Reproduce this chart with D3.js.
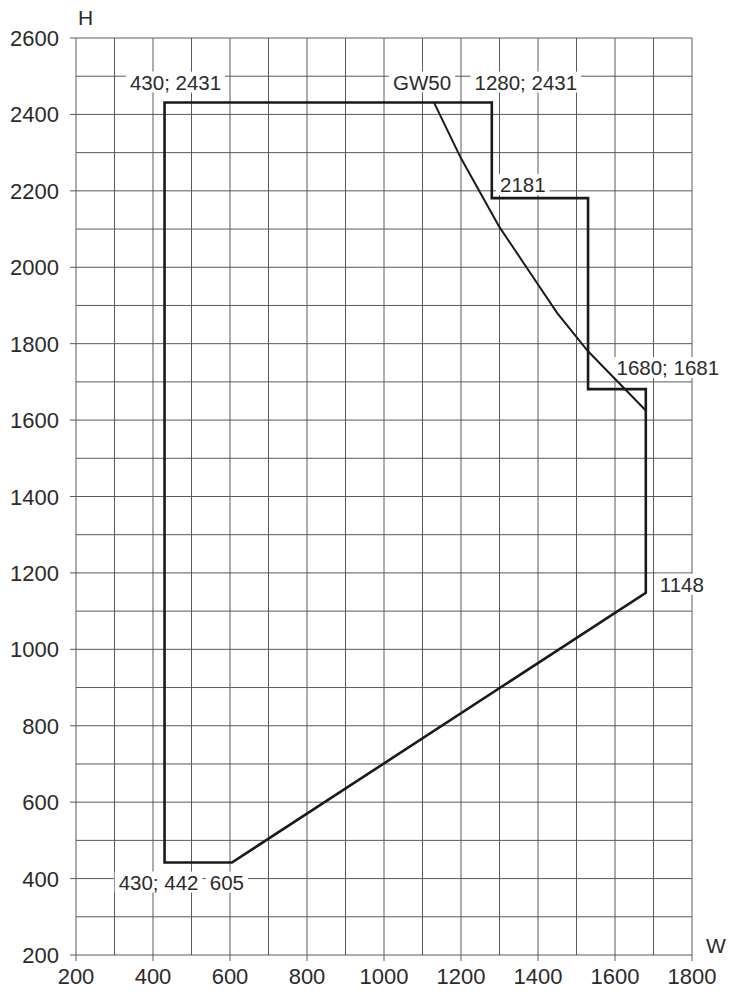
<!DOCTYPE html>
<html>
<head>
<meta charset="utf-8">
<script src="https://cdn.jsdelivr.net/npm/d3@7"></script>
<style>
  body { margin: 0; background: #fff; }
  text { font-family: "Liberation Sans", Arial, sans-serif; fill: #2b2b2b; }
</style>
</head>
<body>
<svg id="chart" width="739" height="1000"></svg>
<script>
const xTicks = [200, 400, 600, 800, 1000, 1200, 1400, 1600, 1800];
const yTicks = [200, 400, 600, 800, 1000, 1200, 1400, 1600, 1800, 2000, 2200, 2400, 2600];

// outline of the allowed area (W; H)
const outline = [
  [430, 2431], [1280, 2431], [1280, 2181], [1530, 2181], [1530, 1681],
  [1680, 1681], [1680, 1148], [605, 442], [430, 442]
];

// GW50 curve
const gw50 = [
  [1130, 2431], [1200, 2285], [1300, 2105], [1390, 1970],
  [1450, 1880], [1530, 1780], [1680, 1625]
];

// annotations: text, anchor point (W; H), pixel offset
const labels = [
  { text: "430; 2431", w: 430, h: 2431, dx: 11, dy: -20 },
  { text: "GW50", w: 1130, h: 2431, dx: -12, dy: -20 },
  { text: "1280; 2431", w: 1280, h: 2431, dx: 34, dy: -20 },
  { text: "2181", w: 1280, h: 2181, dx: 31, dy: -13 },
  { text: "1680; 1681", w: 1680, h: 1681, dx: 22, dy: -21 },
  { text: "1148", w: 1680, h: 1148, dx: 36, dy: -8 },
  { text: "430; 442", w: 430, h: 442, dx: -6, dy: 20 },
  { text: "605", w: 605, h: 442, dx: -5, dy: 20 }
];

const svg = d3.select("#chart");
const x = d3.scaleLinear().domain([200, 1800]).range([76, 692]);
const y = d3.scaleLinear().domain([200, 2600]).range([955, 38]);

const gridColor = "#5a5a5a";

// grid every 100
const g = svg.append("g");
d3.range(200, 1801, 100).forEach((v) => {
  g.append("line").attr("x1", x(v)).attr("x2", x(v))
    .attr("y1", y(2600)).attr("y2", y(200) + (v % 200 === 0 ? 6 : 0))
    .attr("stroke", gridColor).attr("stroke-width", 1);
});
d3.range(200, 2601, 100).forEach((v) => {
  g.append("line").attr("x1", x(200) - (v % 200 === 0 ? 6 : 0)).attr("x2", x(1800))
    .attr("y1", y(v)).attr("y2", y(v))
    .attr("stroke", gridColor).attr("stroke-width", 1);
});

// tick labels
svg.append("g").selectAll("text").data(xTicks).join("text")
  .attr("x", (d) => x(d)).attr("y", 984)
  .attr("text-anchor", "middle").attr("font-size", 22).text((d) => d);
svg.append("g").selectAll("text").data(yTicks).join("text")
  .attr("x", 59).attr("y", (d) => y(d) + 8)
  .attr("text-anchor", "end").attr("font-size", 22).text((d) => d);

svg.append("text").attr("x", 78).attr("y", 25).attr("font-size", 21).text("H");
svg.append("text").attr("x", 706).attr("y", 953).attr("font-size", 21).text("W");

// labels with white boxes (under the outline)
const lab = svg.append("g");
labels.forEach((l) => {
  const t = lab.append("text")
    .attr("x", x(l.w) + l.dx).attr("y", y(l.h) + l.dy + 7)
    .attr("text-anchor", "middle").attr("font-size", 20.5).text(l.text);
  const b = t.node().getBBox();
  lab.insert("rect", () => t.node())
    .attr("x", b.x - 4).attr("y", b.y + 1).attr("width", b.width + 8).attr("height", b.height - 2)
    .attr("fill", "#fff");
});

const line = d3.line().x((d) => x(d[0])).y((d) => y(d[1]));

svg.append("path").attr("d", line(outline) + "Z")
  .attr("fill", "none").attr("stroke", "#1a1a1a").attr("stroke-width", 2.6)
  .attr("stroke-linejoin", "miter");

svg.append("path").attr("d", line(gw50))
  .attr("fill", "none").attr("stroke", "#1a1a1a").attr("stroke-width", 2);
</script>
</body>
</html>
